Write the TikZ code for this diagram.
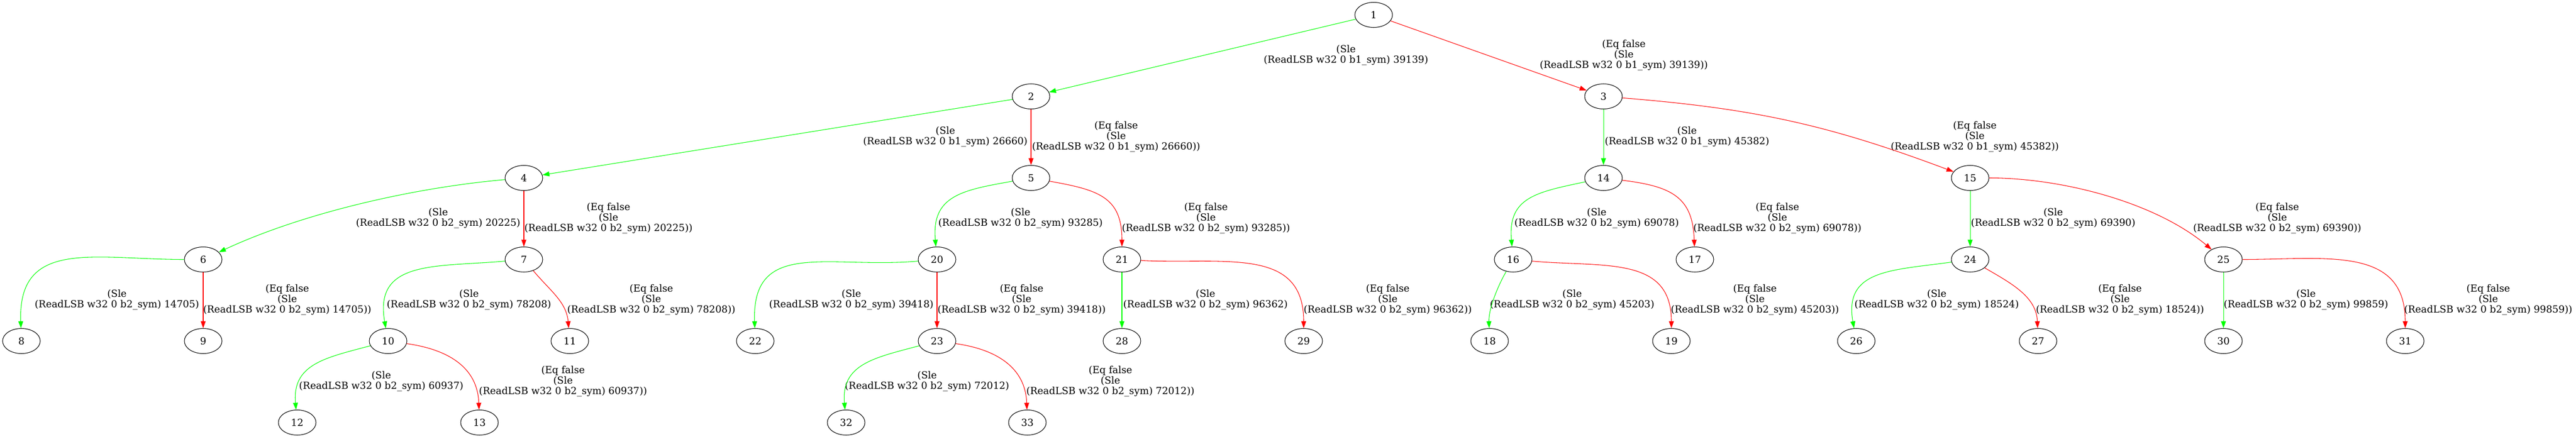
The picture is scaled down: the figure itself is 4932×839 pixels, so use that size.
\documentclass[tikz,border=0pt]{standalone}
\usepackage{fontspec}
\setmainfont{DejaVu Serif}
\usepackage{tikz}
\usetikzlibrary{arrows.meta}
\usetikzlibrary{shapes}

\definecolor{slegreen}{RGB}{0,255,0}
\definecolor{eqred}{RGB}{255,0,0}

\begin{document}
\begin{tikzpicture}[x=0.75pt,y=0.75pt]
\tikzstyle{vertex} = [ellipse, draw=black, line width=0.8pt, minimum width=54pt, minimum height=36pt, inner sep=0pt, font=\fontsize{14pt}{15pt}\selectfont]
\tikzstyle{cond} = [align=center, inner sep=0pt, font=\fontsize{14pt}{15pt}\selectfont]
\tikzstyle{sle edge} = [draw=slegreen, line width=0.8pt, -{Triangle[length=10pt,width=7pt]}]
\tikzstyle{eq edge} = [draw=eqred, line width=0.8pt, -{Triangle[length=10pt,width=7pt]}]

\useasboundingbox (0,0) rectangle (4932,-839);

% states
\node[vertex] (n1) at (2630,-28.5) {1};
\node[vertex] (n2) at (1974,-184.5) {2};
\node[vertex] (n3) at (3070,-184.5) {3};
\node[vertex] (n4) at (1003,-340.5) {4};
\node[vertex] (n5) at (1974,-340.5) {5};
\node[vertex] (n14) at (3070,-340.5) {14};
\node[vertex] (n15) at (3772,-340.5) {15};
\node[vertex] (n6) at (389,-496.5) {6};
\node[vertex] (n7) at (1003,-496.5) {7};
\node[vertex] (n20) at (1794,-496.5) {20};
\node[vertex] (n21) at (2148,-496.5) {21};
\node[vertex] (n16) at (2897,-496.5) {16};
\node[vertex] (n17) at (3245,-496.5) {17};
\node[vertex] (n24) at (3772,-496.5) {24};
\node[vertex] (n25) at (4257,-496.5) {25};
\node[vertex] (n8) at (41,-652.5) {8};
\node[vertex] (n9) at (389,-652.5) {9};
\node[vertex] (n10) at (743,-652.5) {10};
\node[vertex] (n11) at (1091,-652.5) {11};
\node[vertex] (n22) at (1446,-652.5) {22};
\node[vertex] (n23) at (1794,-652.5) {23};
\node[vertex] (n28) at (2148,-652.5) {28};
\node[vertex] (n29) at (2496,-652.5) {29};
\node[vertex] (n18) at (2852,-652.5) {18};
\node[vertex] (n19) at (3200,-652.5) {19};
\node[vertex] (n26) at (3554,-652.5) {26};
\node[vertex] (n27) at (3902,-652.5) {27};
\node[vertex] (n30) at (4257,-652.5) {30};
\node[vertex] (n31) at (4605,-652.5) {31};
\node[vertex] (n12) at (569,-808.5) {12};
\node[vertex] (n13) at (918,-808.5) {13};
\node[vertex] (n32) at (1620,-808.5) {32};
\node[vertex] (n33) at (1967,-808.5) {33};

% branch conditions
\node[cond] (c1-2) at (2577,-106) {(Sle\\(ReadLSB w32 0 b1\_sym) 39139)};
\node[cond] (c1-3) at (3109,-106) {(Eq false\\(Sle\\(ReadLSB w32 0 b1\_sym) 39139))};
\node[cond] (c2-4) at (1810,-262) {(Sle\\(ReadLSB w32 0 b1\_sym) 26660)};
\node[cond] (c2-5) at (2137,-262) {(Eq false\\(Sle\\(ReadLSB w32 0 b1\_sym) 26660))};
\node[cond] (c3-14) at (3230,-262) {(Sle\\(ReadLSB w32 0 b1\_sym) 45382)};
\node[cond] (c3-15) at (3781,-262) {(Eq false\\(Sle\\(ReadLSB w32 0 b1\_sym) 45382))};
\node[cond] (c4-6) at (839,-418) {(Sle\\(ReadLSB w32 0 b2\_sym) 20225)};
\node[cond] (c4-7) at (1165,-418) {(Eq false\\(Sle\\(ReadLSB w32 0 b2\_sym) 20225))};
\node[cond] (c5-20) at (1954,-418) {(Sle\\(ReadLSB w32 0 b2\_sym) 93285)};
\node[cond] (c5-21) at (2309,-418) {(Eq false\\(Sle\\(ReadLSB w32 0 b2\_sym) 93285))};
\node[cond] (c14-16) at (3057,-418) {(Sle\\(ReadLSB w32 0 b2\_sym) 69078)};
\node[cond] (c14-17) at (3403,-418) {(Eq false\\(Sle\\(ReadLSB w32 0 b2\_sym) 69078))};
\node[cond] (c15-24) at (3931,-418) {(Sle\\(ReadLSB w32 0 b2\_sym) 69390)};
\node[cond] (c15-25) at (4360,-418) {(Eq false\\(Sle\\(ReadLSB w32 0 b2\_sym) 69390))};
\node[cond] (c6-8) at (224,-574) {(Sle\\(ReadLSB w32 0 b2\_sym) 14705)};
\node[cond] (c6-9) at (550,-574) {(Eq false\\(Sle\\(ReadLSB w32 0 b2\_sym) 14705))};
\node[cond] (c7-10) at (898,-574) {(Sle\\(ReadLSB w32 0 b2\_sym) 78208)};
\node[cond] (c7-11) at (1247,-574) {(Eq false\\(Sle\\(ReadLSB w32 0 b2\_sym) 78208))};
\node[cond] (c20-22) at (1630,-574) {(Sle\\(ReadLSB w32 0 b2\_sym) 39418)};
\node[cond] (c20-23) at (1956,-574) {(Eq false\\(Sle\\(ReadLSB w32 0 b2\_sym) 39418))};
\node[cond] (c21-28) at (2308,-574) {(Sle\\(ReadLSB w32 0 b2\_sym) 96362)};
\node[cond] (c21-29) at (2657,-574) {(Eq false\\(Sle\\(ReadLSB w32 0 b2\_sym) 96362))};
\node[cond] (c16-18) at (3010,-574) {(Sle\\(ReadLSB w32 0 b2\_sym) 45203)};
\node[cond] (c16-19) at (3360,-574) {(Eq false\\(Sle\\(ReadLSB w32 0 b2\_sym) 45203))};
\node[cond] (c24-26) at (3708,-574) {(Sle\\(ReadLSB w32 0 b2\_sym) 18524)};
\node[cond] (c24-27) at (4059,-574) {(Eq false\\(Sle\\(ReadLSB w32 0 b2\_sym) 18524))};
\node[cond] (c25-30) at (4415,-574) {(Sle\\(ReadLSB w32 0 b2\_sym) 99859)};
\node[cond] (c25-31) at (4764,-574) {(Eq false\\(Sle\\(ReadLSB w32 0 b2\_sym) 99859))};
\node[cond] (c10-12) at (730,-730) {(Sle\\(ReadLSB w32 0 b2\_sym) 60937)};
\node[cond] (c10-13) at (1078,-730) {(Eq false\\(Sle\\(ReadLSB w32 0 b2\_sym) 60937))};
\node[cond] (c23-32) at (1775,-730) {(Sle\\(ReadLSB w32 0 b2\_sym) 72012)};
\node[cond] (c23-33) at (2126,-730) {(Eq false\\(Sle\\(ReadLSB w32 0 b2\_sym) 72012))};

% branches
\path (n1) edge[sle edge] (n2);
\path (n1) edge[eq edge] (n3);
\path (n2) edge[sle edge] (n4);
\path (n2) edge[eq edge] (n5);
\path (n3) edge[sle edge] (n14);
\path (n3) edge[eq edge, bend left=8] (n15);
\path (n4) edge[sle edge, out=185, in=25, looseness=0.8] (n6);
\path (n4) edge[eq edge] (n7);
\path (n5) edge[sle edge, out=190, in=95, looseness=1.3] (n20);
\path (n5) edge[eq edge, out=-10, in=90, looseness=1.3] (n21);
\path (n14) edge[sle edge, out=192, in=95, looseness=1.3] (n16);
\path (n14) edge[eq edge, out=-7, in=92, looseness=1.3] (n17);
\path (n15) edge[sle edge] (n24);
\path (n15) edge[eq edge, out=0, in=140, looseness=0.8] (n25);
\path (n6) edge[sle edge, out=180, in=92, looseness=1.3] (n8);
\path (n6) edge[eq edge] (n9);
\path (n7) edge[sle edge, out=185, in=100, looseness=1.3] (n10);
\path (n7) edge[eq edge, out=-50, in=95] (n11);
\path (n20) edge[sle edge, out=185, in=92, looseness=1.3] (n22);
\path (n20) edge[eq edge] (n23);
\path (n21) edge[sle edge] (n28);
\path (n21) edge[eq edge, out=-3, in=90, looseness=1.2] (n29);
\path (n16) edge[sle edge, out=240, in=92, looseness=0.8] (n18);
\path (n16) edge[eq edge, out=-5, in=90, looseness=1.2] (n19);
\path (n24) edge[sle edge, out=188, in=100, looseness=1.3] (n26);
\path (n24) edge[eq edge, out=-30, in=92] (n27);
\path (n25) edge[sle edge] (n30);
\path (n25) edge[eq edge, out=0, in=90, looseness=1.2] (n31);
\path (n10) edge[sle edge, out=195, in=95, looseness=1.2] (n12);
\path (n10) edge[eq edge, out=-8, in=92, looseness=1.1] (n13);
\path (n23) edge[sle edge, out=195, in=95, looseness=1.2] (n32);
\path (n23) edge[eq edge, out=-8, in=92, looseness=1.1] (n33);
\end{tikzpicture}
\end{document}
